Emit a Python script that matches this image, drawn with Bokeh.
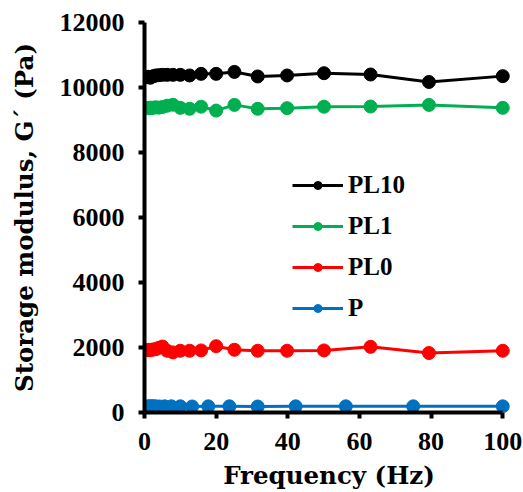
from bokeh.plotting import figure
from bokeh.models import Range1d, Legend, LegendItem, FixedTicker
from bokeh.embed import file_html
from bokeh.resources import INLINE

# Frequencies (Hz)
freq_a = [1, 1.26, 1.58, 2, 2.51, 3.16, 3.98, 5.01, 6.31, 7.94, 10, 12.6, 15.8,
          20, 25.1, 31.6, 39.8, 50.1, 63.1, 79.4, 100]
freq_p = [1, 1.33, 1.78, 2.37, 3.16, 4.22, 5.62, 7.5, 10, 13.3, 17.8, 23.7,
          31.6, 42.2, 56.2, 75, 100]

pl10 = [10330, 10320, 10300, 10330, 10350, 10370, 10380, 10390, 10390, 10390,
        10390, 10370, 10420, 10420, 10480, 10340, 10370, 10440, 10400, 10170, 10350]
pl1 = [9370, 9360, 9380, 9370, 9380, 9390, 9380, 9400, 9440, 9470, 9375,
       9345, 9410, 9290, 9465, 9345, 9365, 9410, 9415, 9465, 9375]
pl0 = [1920, 1930, 1920, 1930, 1940, 1950, 1990, 2030, 1900, 1850, 1900,
       1900, 1910, 2040, 1930, 1900, 1900, 1910, 2020, 1830, 1900]
p = [190, 185, 190, 195, 190, 185, 190, 190, 190, 185, 190, 190,
     185, 190, 190, 190, 190]

series_names = ["PL10", "PL1", "PL0", "P"]
series_colors = ["#000000", "#00B050", "#FF0000", "#0070C0"]
x_ticks = [0, 20, 40, 60, 80, 100]
y_ticks = [0, 2000, 4000, 6000, 8000, 10000, 12000]
x_title = "Frequency (Hz)"
y_title = "Storage modulus, G\u00b4 (Pa)"

SERIF = "Liberation Serif"
TITLE_FONT = "DejaVu Serif"

fig = figure(width=523, height=492, output_backend="svg", toolbar_location=None,
             x_range=Range1d(0, 103), y_range=Range1d(0, 12000),
             min_border_left=144, min_border_right=10, min_border_top=22,
             min_border_bottom=80)
fig.outline_line_color = None
fig.xgrid.visible = False
fig.ygrid.visible = False

renderers = []
data = [(freq_a, pl10), (freq_a, pl1), (freq_a, pl0), (freq_p, p)]
for (xs, ys), name, col in zip(data, series_names, series_colors):
    ln = fig.line(xs, ys, line_color=col, line_width=3)
    sc = fig.scatter(xs, ys, size=13, fill_color=col, line_color=col)
    renderers.append((name, [ln, sc]))

for ax in (fig.xaxis[0], fig.yaxis[0]):
    ax.axis_line_width = 4
    ax.axis_line_color = "black"
    ax.major_tick_line_width = 4
    ax.major_tick_out = 6
    ax.major_tick_in = 0
    ax.minor_tick_line_color = None
    ax.major_label_text_font = SERIF
    ax.major_label_text_font_style = "bold"
    ax.major_label_text_font_size = "26px"
    ax.major_label_text_color = "black"
    ax.axis_label_text_font = TITLE_FONT
    ax.axis_label_text_font_style = "bold"
    ax.axis_label_text_font_size = "24.5px"
    ax.axis_label_text_color = "black"

fig.xaxis[0].ticker = FixedTicker(ticks=x_ticks)
fig.xaxis[0].bounds = (0, 100)
fig.xaxis[0].axis_label = x_title
fig.xaxis[0].major_label_standoff = 14
fig.xaxis[0].axis_label_standoff = 8

fig.yaxis[0].ticker = FixedTicker(ticks=y_ticks)
fig.yaxis[0].axis_label = y_title
fig.yaxis[0].major_label_standoff = 14
fig.yaxis[0].axis_label_standoff = 18

legend = Legend(items=[LegendItem(label=n, renderers=r) for n, r in renderers],
                location=(148, 90), orientation="vertical",
                background_fill_alpha=0, border_line_color=None,
                padding=0, margin=0, spacing=13,
                glyph_width=51, glyph_height=20, label_standoff=5,
                label_text_font=SERIF, label_text_font_style="bold",
                label_text_font_size="25px", label_text_color="black")
fig.add_layout(legend)

open("out.html", "w").write(file_html(fig, INLINE))
